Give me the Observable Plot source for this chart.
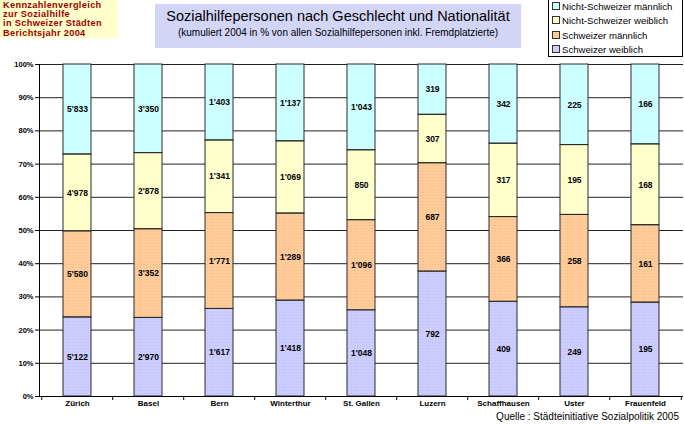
<!DOCTYPE html>
<html>
<head>
<meta charset="utf-8">
<script src="https://cdn.jsdelivr.net/npm/d3@7"></script>
<script src="https://cdn.jsdelivr.net/npm/@observablehq/plot@0.6"></script>
<style>
  body { margin: 0; background: #fff; font-family: "Liberation Sans", Arial, sans-serif; }
  #wrap { position: relative; width: 684px; height: 424px; overflow: hidden; }
  #chart { position: absolute; left: 0; top: 0; }
  #kz { position: absolute; left: 0; top: 0; width: 118px; height: 38px; background: #FFFFCC;
        color: #A00000; font-weight: bold; font-size: 9.2px; line-height: 9.4px; letter-spacing: 0.35px; padding: 0.5px 0 0 3px; box-sizing: border-box; }
  #title { position: absolute; left: 155px; top: 4px; width: 366px; height: 44px; background: #D3D5F7; text-align: center; }
  #title .t { font-size: 14.5px; margin-top: 4px; color: #000; }
  #title .s { font-size: 10px; margin-top: 3px; color: #000; }
  #legend { position: absolute; left: 548px; top: -1px; width: 135px; height: 58px; border: 1px solid #000; background: #fff; font-size: 9.6px; box-sizing: border-box; }
  #legend .row { position: absolute; left: 3px; height: 12px; line-height: 12px; white-space: nowrap; }
  #legend .sw { display: inline-block; width: 6px; height: 6px; border: 1px solid #333; margin-right: 2px; vertical-align: 0px; }
  #source { position: absolute; right: 5px; top: 411px; font-size: 10px; line-height: 11px; color: #000; }
</style>
</head>
<body>
<div id="wrap">
  <div id="chart"></div>
  <div id="kz">Kennzahlenvergleich<br>zur Sozialhilfe<br>in Schweizer Städten<br>Berichtsjahr 2004</div>
  <div id="title"><div class="t">Sozialhilfepersonen nach Geschlecht und Nationalität</div><div class="s">(kumuliert 2004 in % von allen Sozialhilfepersonen inkl. Fremdplatzierte)</div></div>
  <div id="legend"></div>
  <div id="source">Quelle : Städteinitiative Sozialpolitik 2005</div>
</div>
<script>
const cities = ["Zürich", "Basel", "Bern", "Winterthur", "St. Gallen", "Luzern", "Schaffhausen", "Uster", "Frauenfeld"];
const seriesNames = ["Schweizer weiblich", "Schweizer männlich", "Nicht-Schweizer weiblich", "Nicht-Schweizer männlich"];
const schweizerWeiblich = [5122, 2970, 1617, 1418, 1048, 792, 409, 249, 195];
const schweizerMaennlich = [5580, 3352, 1771, 1289, 1096, 687, 366, 258, 161];
const nichtSchweizerWeiblich = [4978, 2878, 1341, 1069, 850, 307, 317, 195, 168];
const nichtSchweizerMaennlich = [5833, 3350, 1403, 1137, 1043, 319, 342, 225, 166];
const seriesColors = ["#CCCCFF", "#FFCC99", "#FFFFCC", "#CCFFFF"];
const seriesPatterns = ["url(#dotsBlue)", "url(#dotsOrange)", "none", "none"];

const valuesBySeries = [schweizerWeiblich, schweizerMaennlich, nichtSchweizerWeiblich, nichtSchweizerMaennlich];
const data = [];
cities.forEach((c, i) => {
  seriesNames.forEach((s, j) => {
    data.push({city: c, series: s, value: valuesBySeries[j][i], color: seriesColors[j], pattern: seriesPatterns[j]});
  });
});

const fmt = v => d3.format(",")(v).replace(/,/g, "'");
const stackOpts = {x: "city", y: "value", z: "series", order: seriesNames, offset: "normalize"};

const plot = Plot.plot({
  width: 684,
  height: 424,
  marginLeft: 39,
  marginRight: 1,
  marginTop: 64,
  marginBottom: 28,
  style: {fontFamily: "'Liberation Sans', Arial, sans-serif", fontSize: "8px", fontWeight: "bold", background: "transparent", color: "#000"},
  x: {domain: cities, paddingInner: 0.6, paddingOuter: 0.3, label: null},
  y: {domain: [0, 1], label: null},
  color: {type: "identity"},
  marks: [
    Plot.gridY({ticks: 10, stroke: "#222", strokeOpacity: 1, strokeWidth: 1}),
    Plot.barY(data, Plot.stackY({...stackOpts, fill: "color"})),
    Plot.barY(data, Plot.stackY({...stackOpts, fill: "pattern", stroke: "#2a2a2a", strokeWidth: 1})),
    Plot.text(data, Plot.stackY({...stackOpts, text: d => fmt(d.value), fill: "#000", fontSize: 8.5, fontWeight: "bold"})),
    Plot.axisY({ticks: 10, tickFormat: "%", tickSize: 4, tickPadding: 2, fontSize: 7.5, fontWeight: "bold", stroke: "#000"}),
    Plot.axisX({tickSize: 0, tickPadding: 4, fontSize: 8, fontWeight: "bold"}),
    Plot.ruleX(cities, {x: d => d, dx: -35.78, y1: 0, y2: -0.012, stroke: "#000"}),
    Plot.ruleX([cities[cities.length - 1]], {x: d => d, dx: 35.78, y1: 0, y2: -0.012, stroke: "#000"}),
    Plot.ruleY([0], {stroke: "#000"}),
    Plot.frame({anchor: "left", stroke: "#000"})
  ]
});

const ns = "http://www.w3.org/2000/svg";
const defs = document.createElementNS(ns, "defs");
defs.innerHTML = `
  <pattern id="dotsBlue" width="3" height="3" patternUnits="userSpaceOnUse">
    <rect x="0" y="0" width="1" height="1" fill="#BDC0F4"></rect>
  </pattern>
  <pattern id="dotsOrange" width="3" height="3" patternUnits="userSpaceOnUse">
    <rect x="0" y="0" width="1" height="1" fill="#F4BE8C"></rect>
  </pattern>`;
plot.insertBefore(defs, plot.firstChild);
document.getElementById("chart").appendChild(plot);

// legend (HTML)
const legend = document.getElementById("legend");
const legendOrder = [3, 2, 1, 0];
legendOrder.forEach((j, k) => {
  const row = document.createElement("div");
  row.className = "row";
  row.style.top = (1 + k * 14.3) + "px";
  const sw = document.createElement("span");
  sw.className = "sw";
  sw.style.background = seriesColors[j];
  row.appendChild(sw);
  row.appendChild(document.createTextNode(seriesNames[j]));
  legend.appendChild(row);
});
</script>
</body>
</html>
